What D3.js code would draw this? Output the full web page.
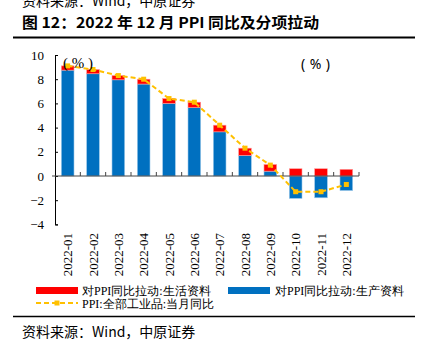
<!DOCTYPE html>
<html><head><meta charset="utf-8">
<script src="https://cdn.jsdelivr.net/npm/d3@7"></script>
<style>body{margin:0;background:#fff;} svg{display:block;} .serif{font-family:"Liberation Serif","Times New Roman","DejaVu Serif",serif;}</style>
</head><body>
<script>
const months = ["2022-01","2022-02","2022-03","2022-04","2022-05","2022-06","2022-07","2022-08","2022-09","2022-10","2022-11","2022-12"];
const livingContrib = [0.35,0.35,0.35,0.4,0.4,0.45,0.55,0.6,0.55,0.6,0.6,0.55];
const producerContrib = [8.75,8.45,7.95,7.6,6.0,5.65,3.65,1.7,0.4,-1.85,-1.8,-1.2];
const ppi = [9.1,8.8,8.3,8.0,6.4,6.1,4.2,2.3,0.9,-1.3,-1.3,-0.7];
const yTicks = [-4,-2,0,2,4,6,8,10];
const legendLabels = ["对PPI同比拉动:生活资料","对PPI同比拉动:生产资料","PPI:全部工业品:当月同比"];

const W=422,H=351;
const svg=d3.select("body").append("svg").attr("width",W).attr("height",H);
const cjk="'Noto Sans CJK SC',sans-serif";

// header
svg.append("text").attr("x",22).attr("y",6).attr("font-family",cjk).attr("font-size",14).attr("fill","#000").text("资料来源：Wind，中原证券");
svg.append("text").attr("x",22).attr("y",28).attr("font-family",cjk).attr("font-size",15).attr("font-weight","bold")
  .attr("textLength",297).attr("lengthAdjust","spacingAndGlyphs").text("图 12：2022 年 12 月 PPI 同比及分项拉动");
svg.append("line").attr("x1",13).attr("x2",415).attr("y1",37.5).attr("y2",37.5).attr("stroke","#000").attr("stroke-width",2);

const x=d3.scaleBand().domain(months).range([55,359]).paddingInner(0.5).paddingOuter(0.25);
const y=d3.scaleLinear().domain([-4,10]).range([224.4,55]);

// bars: producer (blue) then living (red)
const g=svg.append("g");
months.forEach((m,i)=>{
  const b=producerContrib[i], r=livingContrib[i];
  g.append("rect").attr("x",x(m)).attr("width",x.bandwidth())
    .attr("y",y(Math.max(b,0))).attr("height",Math.abs(y(b)-y(0)))
    .attr("fill","#0070C0").attr("stroke","#9cc8ea").attr("stroke-width",0.6);
  const base = b>0 ? b : 0;
  g.append("rect").attr("x",x(m)).attr("width",x.bandwidth())
    .attr("y",y(base+r)).attr("height",y(base)-y(base+r))
    .attr("fill","#FF0000").attr("stroke","#ff9a9a").attr("stroke-width",0.6);
});

// axes
const yAxis=d3.axisLeft(y).tickValues(yTicks).tickSize(-3).tickPadding(11).tickFormat(d3.format("d"));
const ya=svg.append("g").attr("transform","translate(55,0)").call(yAxis).attr("font-family",null);
ya.selectAll("text").attr("class","serif").attr("font-size",13).attr("fill","#000");
ya.selectAll("line,path").attr("stroke","#000");

const xa=svg.append("g");
xa.append("line").attr("x1",52).attr("x2",359).attr("y1",y(0)).attr("y2",y(0)).attr("stroke","#444").attr("stroke-width",1);
const bounds=months.map(m=>x(m)-x.step()*x.paddingInner()/2).concat([359]);
bounds.slice(1).forEach(bx=>{
  xa.append("line").attr("x1",bx).attr("x2",bx).attr("y1",y(0)).attr("y2",y(0)-4).attr("stroke","#444");
});
months.forEach(m=>{
  xa.append("text").attr("class","serif").attr("transform",`translate(${x(m)+x.bandwidth()/2},233) rotate(-90)`)
    .attr("text-anchor","end").attr("dominant-baseline","central")
    .attr("font-size",13).text(m);
});

// PPI line
const line=d3.line().x((d,i)=>x(months[i])+x.bandwidth()/2).y(d=>y(d));
svg.append("path").datum(ppi).attr("d",line).attr("fill","none").attr("stroke","#FFC000").attr("stroke-width",2).attr("stroke-dasharray","5,3");
svg.selectAll(".mk").data(ppi).enter().append("rect")
  .attr("x",(d,i)=>x(months[i])+x.bandwidth()/2-2.5).attr("y",d=>y(d)-2.5).attr("width",5).attr("height",5).attr("fill","#FFC000");

// unit labels
svg.append("text").attr("class","serif").attr("x",63).attr("y",63).attr("dominant-baseline","central").attr("font-size",15)
  .attr("textLength",30).attr("lengthAdjust","spacing").text("(%)");
svg.append("text").attr("x",301).attr("y",63).attr("dominant-baseline","central").attr("font-family","'Noto Sans',sans-serif").attr("font-size",14)
  .attr("textLength",29).attr("lengthAdjust","spacing").text("(%)");

// legend
svg.append("rect").attr("x",36).attr("y",287).attr("width",42).attr("height",7).attr("fill","#FF0000");
svg.append("text").attr("class","serif").attr("x",82).attr("y",291).attr("dominant-baseline","central").attr("font-size",12).text(legendLabels[0]);
svg.append("rect").attr("x",228).attr("y",287).attr("width",42).attr("height",7).attr("fill","#0070C0");
svg.append("text").attr("class","serif").attr("x",275).attr("y",291).attr("dominant-baseline","central").attr("font-size",12).text(legendLabels[1]);
svg.append("line").attr("x1",36).attr("x2",78).attr("y1",303).attr("y2",303).attr("stroke","#FFC000").attr("stroke-width",2).attr("stroke-dasharray","5,3");
svg.append("rect").attr("x",54.5).attr("y",300.5).attr("width",5).attr("height",5).attr("fill","#FFC000");
svg.append("text").attr("class","serif").attr("x",82).attr("y",303.5).attr("dominant-baseline","central").attr("font-size",12).text(legendLabels[2]);

// footer
svg.append("line").attr("x1",13).attr("x2",415).attr("y1",316.5).attr("y2",316.5).attr("stroke","#000").attr("stroke-width",1.5);
svg.append("text").attr("x",22).attr("y",331).attr("dominant-baseline","central").attr("font-family",cjk).attr("font-size",14).text("资料来源：Wind，中原证券");
</script>
</body></html>
